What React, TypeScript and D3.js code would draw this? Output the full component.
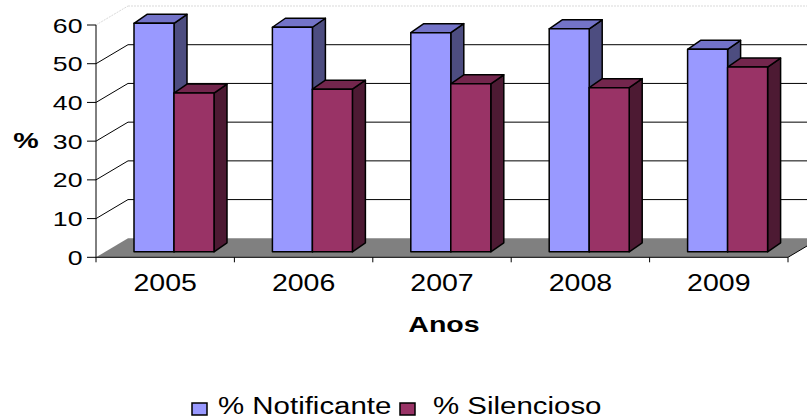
import React from "react";
import * as d3 from "d3";

// dados
const anos = ["2005", "2006", "2007", "2008", "2009"];
const notificante = [59, 58, 56.6, 57.6, 52.3];
const silencioso = [41, 42, 43.4, 42.4, 47.7];
const yTicks = [0, 10, 20, 30, 40, 50, 60];
const seriesNames = ["% Notificante", "% Silencioso"];

const W = 807;
const H = 419;
const FONT = "'Liberation Sans', Arial, sans-serif";

// profundidade 3D
const DX = 32, DY = -19;          // parede / chão
const PX = 8.8, PY = -5.5;        // plano frontal das barras
const BX = 13, BY = -9;           // espessura das barras

const colors = [
  { front: "#9999FF", top: "#7373C8", side: "#4D4D80" },
  { front: "#993366", top: "#73264D", side: "#4D1A33" },
];

const App = () => {
  const x = d3.scaleBand<string>().domain(anos).range([96, 788]).padding(0);
  const y = d3.scaleLinear().domain([0, 60]).range([257.3, 25]);
  const sub = d3.scaleBand<number>().domain([0, 1]).range([0, 80]);
  const bw = sub.bandwidth();
  const y0 = y(0);
  const xL = x.range()[0];
  const xR = x.range()[1];

  const series = [notificante, silencioso];

  const pts = (p: number[][]) => p.map(d => d.join(",")).join(" ");

  return (
    <svg width={W} height={H} style={{ display: "block", position: "absolute", left: 0, top: 0 }}>
      <rect width={W} height={H} fill="#fff" />

      {/* parede de fundo e lateral */}
      {yTicks.slice(1).map(t => {
        const top = t === 60;
        return (
          <g key={t} stroke={top ? "#d9d9d9" : "#000"} strokeWidth={1}
             strokeDasharray={top ? "2,1" : undefined}>
            <line x1={xL} y1={y(t)} x2={xL + DX} y2={y(t) + DY} />
            <line x1={xL + DX} y1={y(t) + DY} x2={xR + DX} y2={y(t) + DY}
                  strokeDasharray={undefined} />
          </g>
        );
      })}

      {/* chão */}
      <polygon
        points={pts([[xL, y0], [xL + DX, y0 + DY], [xR + DX, y0 + DY], [xR, y0]])}
        fill="#808080" />
      <line x1={xR} y1={y0} x2={xR + DX} y2={y0 + DY} stroke="#000" />

      {/* eixo y */}
      <line x1={xL} y1={y(60)} x2={xL} y2={y0 + 5} stroke="#000" />
      {yTicks.map(t => (
        <g key={t}>
          <line x1={xL - 9} y1={y(t)} x2={xL} y2={y(t)} stroke="#000" />
          <text transform={`translate(82.5,${y(t) + 7.5}) scale(1.27,1)`}
                textAnchor="end" fontFamily={FONT} fontSize={21} fill="#000">{t}</text>
        </g>
      ))}

      {/* eixo x */}
      <line x1={xL} y1={y0} x2={xR} y2={y0} stroke="#000" />
      {anos.map(a => (
        <line key={a} x1={(x(a) as number) + x.bandwidth()} y1={y0}
              x2={(x(a) as number) + x.bandwidth()} y2={y0 + 5} stroke="#000" />
      ))}
      {anos.map(a => (
        <text key={a} transform={`translate(${(x(a) as number) + x.bandwidth() / 2},290.5) scale(1.24,1)`}
              textAnchor="middle" fontFamily={FONT} fontSize={23} fill="#000">{a}</text>
      ))}

      {/* barras */}
      {anos.map((a, i) => {
        const start = (x(a) as number) + (x.bandwidth() - 80) / 2 + PX;
        return (
          <g key={a} stroke="#000" strokeWidth={1.5} strokeLinejoin="round">
            {series.map((s, k) => {
              const x0 = start + (sub(k) as number);
              const x1 = x0 + bw;
              const yb = y0 + PY;
              const yt = y(s[i]) + PY;
              const c = colors[k];
              return (
                <g key={k}>
                  <polygon fill={c.side}
                    points={pts([[x1, yt], [x1 + BX, yt + BY], [x1 + BX, yb + BY], [x1, yb]])} />
                  <polygon fill={c.top}
                    points={pts([[x0, yt], [x0 + BX, yt + BY], [x1 + BX, yt + BY], [x1, yt]])} />
                  <rect x={x0} y={yt} width={bw} height={yb - yt} fill={c.front} />
                </g>
              );
            })}
          </g>
        );
      })}

      {/* títulos */}
      <text transform="translate(26,148) scale(1.3,1)" textAnchor="middle"
            fontFamily={FONT} fontSize={22} fontWeight="bold" fill="#000">%</text>
      <text transform="translate(444,331.5) scale(1.3,1)" textAnchor="middle"
            fontFamily={FONT} fontSize={22} fontWeight="bold" fill="#000">Anos</text>

      {/* legenda */}
      {seriesNames.map((n, k) => {
        const sx = [192, 400][k];
        const tx = [218, 433][k];
        return (
          <g key={n}>
            <rect x={sx} y={403} width={15} height={12} fill={colors[k].front}
                  stroke="#000" strokeWidth={1.5} />
            <text transform={`translate(${tx},413.5) scale(1.28,1)`}
                  fontFamily={FONT} fontSize={23} fill="#000">{n}</text>
          </g>
        );
      })}
    </svg>
  );
};

export default App;
